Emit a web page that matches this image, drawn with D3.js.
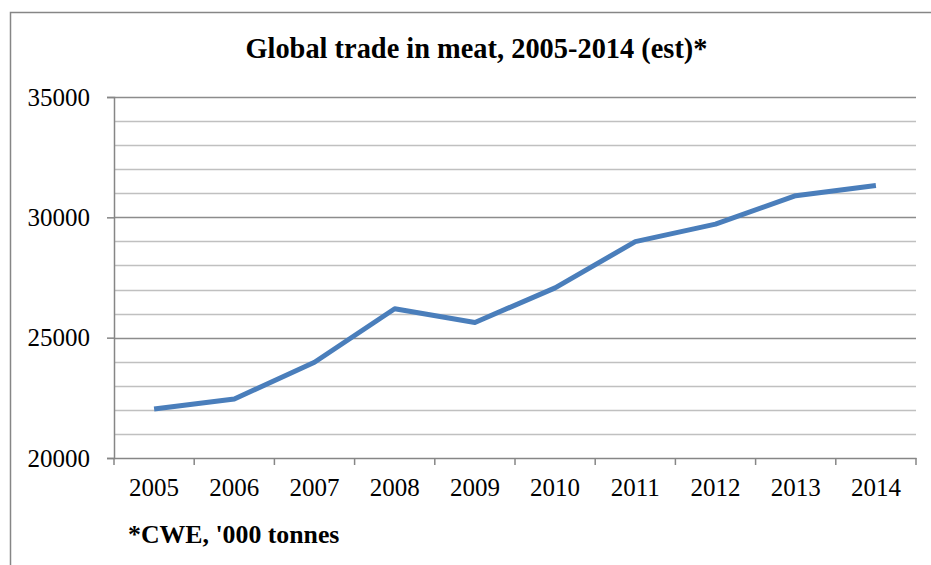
<!DOCTYPE html>
<html><head><meta charset="utf-8">
<script src="https://cdn.jsdelivr.net/npm/d3@7"></script>
<style>body{margin:0;background:#fff}svg{display:block}</style>
</head><body>
<svg id="c" width="931" height="565"></svg>
<script>
const years = ["2005","2006","2007","2008","2009","2010","2011","2012","2013","2014"];
const trade = [22040, 22450, 23980, 26200, 25630, 27070, 28990, 29720, 30900, 31320];
const yTicks = [20000, 25000, 30000, 35000];
const titleText = "Global trade in meat, 2005-2014 (est)*";
const noteText = "*CWE, '000 tonnes";

const svg = d3.select("#c");
const W = 931, H = 565;
const m = {left:114, right:15, top:97, bottom:107};
const font = '"Liberation Serif", "Times New Roman", serif';

svg.append("rect").attr("x",10.5).attr("y",12.5).attr("width",W+20).attr("height",H+20)
  .attr("fill","#fff").attr("stroke","#868686").attr("stroke-width",1.5);

const x = d3.scaleBand().domain(years).range([m.left, W-m.right]).padding(0);
const y = d3.scaleLinear().domain([20000,35000]).range([H-m.bottom, m.top]);

// minor gridlines
const minor = d3.range(21000, 35000, 1000).filter(v => v % 5000 !== 0);
svg.append("g").selectAll("line").data(minor).join("line")
  .attr("x1", m.left).attr("x2", W-m.right)
  .attr("y1", d=>Math.round(y(d))+0.5).attr("y2", d=>Math.round(y(d))+0.5)
  .attr("stroke","#c0c0c0").attr("stroke-width",1.5);
// major gridlines
svg.append("g").selectAll("line").data(yTicks.filter(v=>v>20000)).join("line")
  .attr("x1", m.left).attr("x2", W-m.right)
  .attr("y1", d=>Math.round(y(d))+0.5).attr("y2", d=>Math.round(y(d))+0.5)
  .attr("stroke","#8c8c8c").attr("stroke-width",1.5);

// y axis
const yAxis = svg.append("g").attr("transform",`translate(${m.left},0)`)
  .call(d3.axisLeft(y).tickValues(yTicks).tickSize(7).tickPadding(17).tickFormat(d3.format("d")));
yAxis.attr("font-family", null);
yAxis.select(".domain").attr("stroke","#868686").attr("stroke-width",1.5);
yAxis.selectAll(".tick line").attr("stroke","#868686").attr("stroke-width",1.5);
yAxis.selectAll("text").style("font-family",font).style("font-size","25px").attr("fill","#000");

// x axis with ticks at category boundaries
const xAxis = svg.append("g").attr("transform",`translate(0,${H-m.bottom})`)
  .call(d3.axisBottom(x).tickSize(0).tickPadding(20));
xAxis.attr("font-family", null);
xAxis.select(".domain").attr("stroke","#868686").attr("stroke-width",1.5);
xAxis.selectAll("text").style("font-family",font).style("font-size","25px").attr("fill","#000");
const bounds = years.map(d=>x(d)).concat([x(years[years.length-1])+x.bandwidth()]);
xAxis.append("g").selectAll("line").data(bounds).join("line")
  .attr("x1",d=>d).attr("x2",d=>d).attr("y1",0).attr("y2",7)
  .attr("stroke","#868686").attr("stroke-width",1.5);

// line
const line = d3.line().x((d,i)=>x(years[i])+x.bandwidth()/2).y(d=>y(d));
svg.append("path").datum(trade).attr("d",line).attr("fill","none")
  .attr("stroke","#4a7ebb").attr("stroke-width",5).attr("stroke-linejoin","round").attr("stroke-linecap","butt");

// title
svg.append("text").attr("x", 476.5).attr("y", 58).attr("text-anchor","middle")
  .style("font-family",font).style("font-weight","bold").style("font-size","28.4px").text(titleText);
// note
svg.append("text").attr("x", 128).attr("y", 543)
  .style("font-family",font).style("font-weight","bold").style("font-size","25.8px").text(noteText);
</script>
</body></html>
